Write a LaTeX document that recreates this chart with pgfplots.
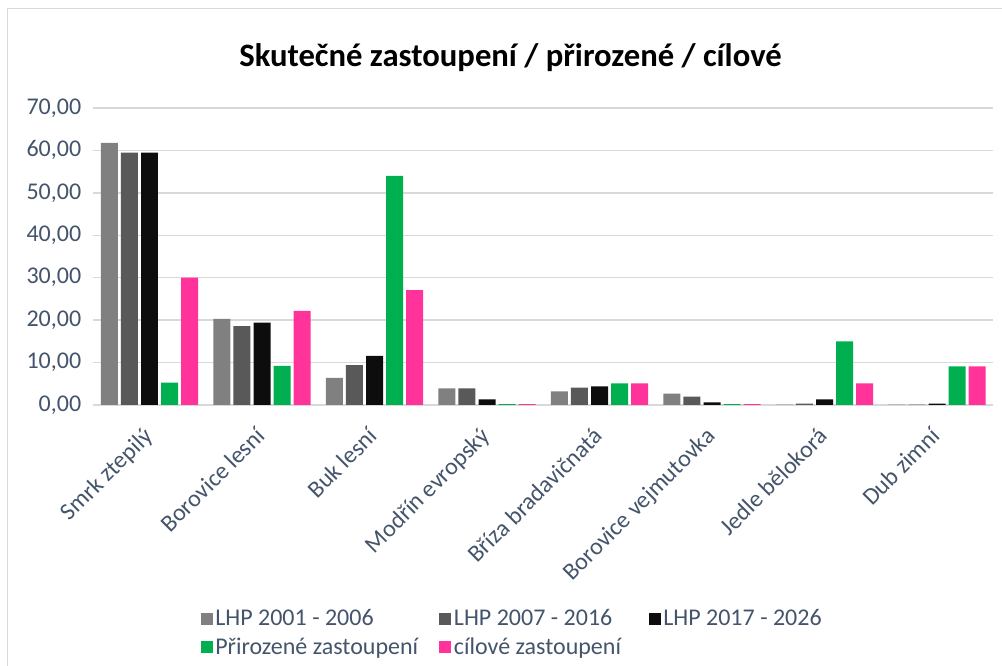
\documentclass[border=0pt]{standalone}
\usepackage{fontspec}
\setmainfont{Carlito}
\usepackage{pgfplots}
\pgfplotsset{compat=1.18}
\definecolor{tc}{HTML}{44546A}
\definecolor{gridc}{HTML}{D9D9D9}
\definecolor{c1}{HTML}{808080}
\definecolor{c2}{HTML}{595959}
\definecolor{c3}{HTML}{0D0D0D}
\definecolor{c4}{HTML}{00B050}
\definecolor{c5}{HTML}{FF3399}
\begin{document}
\begin{tikzpicture}
\path[use as bounding box] (0,0) rectangle (751.5pt,499.5pt);
\draw[gridc, line width=1.1pt] (5.6pt,0) -- (5.6pt,493.1pt) -- (751.5pt,493.1pt);
\node[font=\bfseries\fontsize{24.5}{29}\selectfont, text=black] at (382.9pt,456pt) {Skutečné zastoupení / přirozené / cílové};
\begin{axis}[
  at={(69.94pt,195.75pt)}, anchor=south west,
  scale only axis, width=675pt, height=222.75pt,
  xmin=-0.5, xmax=7.5, ymin=0, ymax=70,
  ytick={0,10,...,70},
  xtick={0,...,7},
  xticklabels={Smrk ztepilý, Borovice lesní, Buk lesní, Modřín evropský, Bříza bradavičnatá, Borovice vejmutovka, Jedle bělokorá, Dub zimní},
  axis line style={draw=none},
  tick style={draw=none},
  ymajorgrids, major grid style={gridc, line width=1.1pt},
  yticklabel={\pgfmathprintnumber[fixed, fixed zerofill, precision=2, use comma, assume math mode=true]{\tick}},
  ticklabel style={font=\fontsize{18}{21}\selectfont, text=tc},
  yticklabel style={xshift=-5.5pt},
  xticklabel style={rotate=45, anchor=north east, inner sep=1pt, xshift=-13.9pt, yshift=-5.9pt},
  bar width=0.151,
  legend style={at={(0.4658,-0.7677)}, anchor=center, draw=none, fill=none,
    font=\fontsize{18}{22.5}\selectfont, text=tc, legend columns=3,
    /tikz/every even column/.append style={column sep=0pt},
    row sep=3.5pt},
  legend cell align=left,
  legend image code/.code={\fill[#1] (0pt,-4.5pt) rectangle (9pt,4.5pt);},
]
\addplot[ybar, bar shift=-0.356, fill=c1, draw=none] coordinates {(0,61.8) (1,20.3) (2,6.4) (3,3.9) (4,3.2) (5,2.7) (6,0.1) (7,0.1)};
\addplot[ybar, bar shift=-0.178, fill=c2, draw=none] coordinates {(0,59.5) (1,18.6) (2,9.4) (3,3.9) (4,4.1) (5,2.0) (6,0.35) (7,0.1)};
\addplot[ybar, bar shift=0, fill=c3, draw=none] coordinates {(0,59.5) (1,19.4) (2,11.6) (3,1.3) (4,4.4) (5,0.6) (6,1.3) (7,0.35)};
\addplot[ybar, bar shift=0.178, fill=c4, draw=none] coordinates {(0,5.3) (1,9.2) (2,54.0) (3,0.2) (4,5.1) (5,0.2) (6,15.0) (7,9.1)};
\addplot[ybar, bar shift=0.356, fill=c5, draw=none] coordinates {(0,30.0) (1,22.2) (2,27.1) (3,0.2) (4,5.1) (5,0.2) (6,5.1) (7,9.1)};
\legend{\makebox[166pt][l]{LHP 2001 - 2006}, \makebox[144pt][l]{LHP 2007 - 2016}, LHP 2017 - 2026, \makebox[166pt][l]{Přirozené zastoupení}, \makebox[144pt][l]{cílové zastoupení}}
\end{axis}
\end{tikzpicture}
\end{document}
